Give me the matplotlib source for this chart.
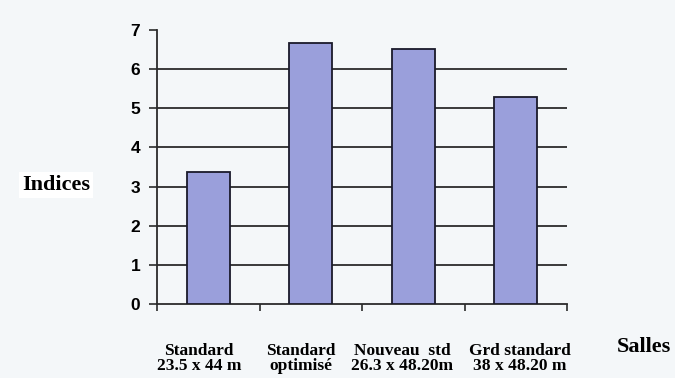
import matplotlib.pyplot as plt
import numpy as np

categories = ["Standard\n23.5 x 44 m", "Standard\noptimisé",
              "Nouveau  std\n26.3 x 48.20m", "Grd standard\n38 x 48.20 m"]
indices = [3.37, 6.67, 6.52, 5.30]
y_ticks = [0, 1, 2, 3, 4, 5, 6, 7]

# small horizontal nudges of the category labels, as in the original
label_shift = [-0.09, -0.10, -0.11, 0.04]

bg = '#f4f7f9'
fig = plt.figure(figsize=(6.75, 3.78), dpi=100, facecolor=bg)
ax = fig.add_axes([157 / 675, 1 - 304 / 378, 410 / 675, 274 / 378])
ax.set_facecolor(bg)

x = np.arange(len(categories))
ax.bar(x, indices, width=0.42, color='#9a9fdb', edgecolor='#1a1a2a',
       linewidth=1.3, zorder=3)

for v in y_ticks[1:-1]:
    ax.axhline(v, color='#2b2b2b', linewidth=1.3, zorder=1)

ax.set_xlim(-0.5, len(categories) - 0.5)
ax.set_ylim(0, 7)
ax.set_yticks(y_ticks)
ax.set_yticklabels([str(t) for t in y_ticks], fontsize=12.5,
                   fontweight='bold', family='Liberation Sans')
ax.set_xticks(np.arange(len(categories) + 1) - 0.5)
ax.set_xticklabels([])
ax.tick_params(axis='y', length=6, width=1.2, color='#2b2b2b', pad=6)
ax.tick_params(axis='x', length=5, width=1.2, color='#2b2b2b', direction='out')

for s in ['top', 'right']:
    ax.spines[s].set_visible(False)
for s in ['left', 'bottom']:
    ax.spines[s].set_color('#2b2b2b')
    ax.spines[s].set_linewidth(1.3)

for i, lab in enumerate(categories):
    ax.text(i + label_shift[i], -1.0, lab, ha='center', va='top', fontsize=12.5,
            fontweight='bold', family='Liberation Serif', linespacing=0.92)

fig.text(22 / 675, 1 - 185 / 378, "Indices", ha='left', va='center',
         fontsize=16, fontweight='bold', family='Liberation Serif',
         bbox=dict(facecolor='white', edgecolor='none', pad=2))
fig.text(617 / 675, 1 - 347 / 378, "Salles", ha='left', va='center',
         fontsize=16, fontweight='bold', family='Liberation Serif')

fig.savefig('out.png', dpi=100, facecolor=bg)
